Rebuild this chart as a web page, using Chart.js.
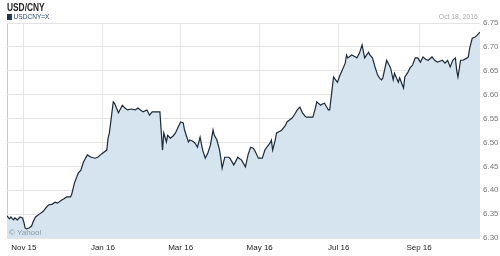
<!DOCTYPE html>
<html lang="en">
<head>
<meta charset="UTF-8">
<title>USD/CNY</title>
<script src="https://cdn.jsdelivr.net/npm/chart.js"></script>
<style>
  body { margin: 0; background: #fff; font-family: 'Liberation Sans', Arial, sans-serif; }
  .wrap { position: relative; width: 500px; height: 256px; }
  .wrap canvas { position: absolute; left: 0; top: 0; }
  .title { position: absolute; left: 7px; top: 1px; font-weight: bold; font-size: 11px; color: #222; transform: scaleX(0.76); transform-origin: left top; }
  .legend { position: absolute; left: 7px; top: 12px; font-size: 8px; color: #2b4a6b; transform: scaleX(0.82); transform-origin: left top; }
  .legend i { display: inline-block; width: 6px; height: 6px; background: #1d3556; margin-right: 2px; vertical-align: -1px; }
  .date { position: absolute; right: 22px; top: 12px; font-size: 8px; color: #aaa; transform: scaleX(0.85); transform-origin: right top; }
  .credit { position: absolute; left: 9px; top: 228px; font-size: 8px; color: #8899aa; }
</style>
</head>
<body>

<div class="wrap">
  <canvas id="fx" width="500" height="256"></canvas>
  <div class="title">USD/CNY</div>
  <div class="legend"><i></i>USDCNY=X</div>
  <div class="date">Oct 18, 2016</div>
  <div class="credit">© Yahoo!</div>
</div>

<script>
// days since Oct 19, 2015
const days = [0, 2, 3, 5, 6, 8, 10, 12, 13, 14, 15, 17, 19, 20, 22, 25, 28, 30, 32, 35,
  37, 39, 42, 44, 46, 49, 50, 52, 55, 57, 59, 62, 65, 68, 70, 73, 75, 77, 78, 79,
  82, 83, 86, 89, 91, 93, 96, 99, 101, 103, 105, 108, 110, 112, 115, 118, 120, 121, 123, 124,
  126, 128, 130, 132, 134, 136, 137, 140, 141, 143, 145, 147, 149, 151, 153, 155, 157, 159, 160, 162,
  164, 165, 166, 168, 171, 172, 175, 177, 178, 181, 184, 186, 188, 190, 191, 194, 197, 199, 201, 203,
  204, 205, 207, 208, 211, 212, 215, 216, 218, 220, 222, 224, 226, 228, 230, 231, 234, 236, 238, 239,
  242, 243, 245, 248, 249, 252, 253, 255, 257, 258, 261, 262, 263, 265, 266, 269, 270, 272, 274, 276,
  279, 280, 282, 284, 286, 288, 289, 290, 293, 296, 298, 299, 302, 303, 306, 307, 309, 311, 313, 315,
  317, 319, 321, 323, 325, 328, 330, 332, 334, 336, 338, 340, 342, 344, 346, 347, 348, 350, 352, 355,
  356, 357, 359, 361, 363, 365];

const rates = [6.346, 6.340, 6.344, 6.338, 6.342, 6.338, 6.344, 6.342, 6.333, 6.321, 6.319, 6.321, 6.325, 6.333, 6.344, 6.350, 6.356, 6.363, 6.369, 6.371,
  6.375, 6.373, 6.379, 6.382, 6.386, 6.386, 6.392, 6.415, 6.436, 6.442, 6.459, 6.474, 6.469, 6.467, 6.469, 6.476, 6.480, 6.484, 6.509, 6.520,
  6.585, 6.582, 6.562, 6.578, 6.572, 6.568, 6.570, 6.568, 6.572, 6.568, 6.564, 6.568, 6.557, 6.564, 6.564, 6.564, 6.484, 6.520, 6.501, 6.515,
  6.509, 6.513, 6.520, 6.532, 6.543, 6.541, 6.526, 6.501, 6.505, 6.503, 6.499, 6.490, 6.511, 6.484, 6.467, 6.478, 6.495, 6.526, 6.515, 6.505,
  6.484, 6.467, 6.446, 6.469, 6.469, 6.467, 6.453, 6.463, 6.469, 6.463, 6.449, 6.474, 6.490, 6.488, 6.484, 6.467, 6.467, 6.484, 6.492, 6.499,
  6.505, 6.484, 6.505, 6.520, 6.524, 6.526, 6.536, 6.543, 6.547, 6.551, 6.559, 6.568, 6.574, 6.562, 6.555, 6.553, 6.553, 6.553, 6.572, 6.585,
  6.578, 6.580, 6.582, 6.568, 6.568, 6.637, 6.633, 6.626, 6.641, 6.647, 6.666, 6.683, 6.677, 6.681, 6.683, 6.679, 6.677, 6.687, 6.704, 6.677,
  6.689, 6.683, 6.677, 6.658, 6.641, 6.633, 6.631, 6.635, 6.672, 6.656, 6.631, 6.645, 6.626, 6.635, 6.614, 6.637, 6.645, 6.656, 6.662, 6.677,
  6.677, 6.668, 6.679, 6.674, 6.672, 6.679, 6.672, 6.668, 6.670, 6.672, 6.666, 6.672, 6.658, 6.672, 6.677, 6.651, 6.637, 6.672, 6.672, 6.677,
  6.679, 6.697, 6.718, 6.720, 6.725, 6.731];

const tickDays = [13, 74, 134, 195, 256, 318];
const tickLabels = ['Nov 15', 'Jan 16', 'Mar 16', 'May 16', 'Jul 16', 'Sep 16'];

const yMin = 6.30;
const yMax = 6.75;
const yStep = 0.05;

const ctx = document.getElementById('fx').getContext('2d');
new Chart(ctx, {
  type: 'line',
  data: {
    datasets: [{
      label: 'USDCNY=X',
      data: days.map((d, i) => ({ x: d, y: rates[i] })),
      borderColor: '#1c2938',
      borderWidth: 1.2,
      backgroundColor: '#d6e4f0',
      fill: 'start',
      pointRadius: 0,
      tension: 0
    }]
  },
  options: {
    responsive: false,
    animation: false,
    layout: { padding: { left: 7, right: 0, top: 23, bottom: 0 } },
    plugins: { legend: { display: false }, tooltip: { enabled: false } },
    scales: {
      x: {
        type: 'linear',
        min: 0,
        max: 365,
        afterFit: s => { s.height = 18; },
        afterBuildTicks: s => { s.ticks = [0].concat(tickDays).map(v => ({ value: v })); },
        ticks: {
          autoSkip: false,
          maxRotation: 0,
          padding: 5,
          color: '#222',
          font: { family: "'Liberation Sans', Arial", size: 8 },
          callback: v => {
            const i = tickDays.indexOf(v);
            return i >= 0 ? tickLabels[i] : '';
          }
        },
        grid: {
          drawTicks: false,
          color: c => (c.tick && c.tick.value === 0) ? '#c8c8c8' : '#e6e6e6'
        },
        border: { display: false }
      },
      y: {
        position: 'right',
        min: yMin,
        max: yMax,
        afterFit: s => { s.width = 20; },
        ticks: {
          stepSize: yStep,
          padding: 3,
          color: '#777',
          font: { family: "'Liberation Sans', Arial", size: 8 },
          callback: v => v.toFixed(2)
        },
        grid: { drawTicks: false, color: '#e4e4e4' },
        border: { display: false }
      }
    }
  }
});
</script>

</body>
</html>
